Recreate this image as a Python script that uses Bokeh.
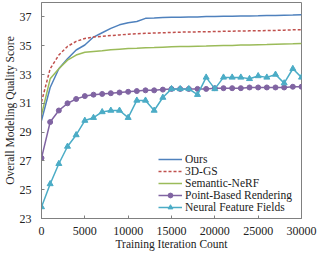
from bokeh.plotting import figure
from bokeh.models import FixedTicker, Legend, LegendItem, ColumnDataSource
from bokeh.embed import file_html
from bokeh.resources import INLINE

iters = [i * 1000 for i in range(31)]

ours = [29.8, 32.1, 33.4, 34.1, 34.7, 35.05, 35.6, 35.9, 36.2, 36.45, 36.6,
        36.68, 36.9, 36.92, 36.95, 36.97, 36.98, 37.0, 37.0, 37.02, 37.03,
        37.05, 37.05, 37.07, 37.07, 37.08, 37.1, 37.1, 37.12, 37.13, 37.15]
gs3d = [31.1, 33.4, 34.35, 34.95, 35.3, 35.5, 35.6, 35.65, 35.7, 35.75, 35.8,
        35.83, 35.86, 35.88, 35.9, 35.92, 35.94, 35.95, 35.96, 35.97, 35.98,
        36.0, 36.01, 36.02, 36.03, 36.04, 36.05, 36.06, 36.08, 36.1, 36.1]
semnerf = [30.2, 32.7, 33.4, 34.0, 34.35, 34.55, 34.6, 34.65, 34.72, 34.76, 34.8,
           34.82, 34.85, 34.87, 34.9, 34.93, 34.94, 34.95, 34.97, 34.98, 35.0,
           35.01, 35.02, 35.04, 35.05, 35.07, 35.08, 35.1, 35.12, 35.13, 35.15]
pbr = [27.2, 29.7, 30.5, 31.0, 31.3, 31.5, 31.6, 31.65, 31.7, 31.75, 31.8,
       31.85, 31.9, 31.9, 31.95, 32.0, 32.0, 32.0, 32.0, 32.0, 32.05,
       32.05, 32.05, 32.05, 32.1, 32.1, 32.1, 32.1, 32.1, 32.15, 32.15]
nff = [23.8, 25.4, 26.8, 28.0, 28.8, 29.8, 30.0, 30.4, 30.5, 30.5, 30.0,
       31.2, 31.2, 30.5, 31.4, 32.0, 32.0, 32.0, 31.6, 32.8, 32.0,
       32.8, 32.8, 32.8, 32.7, 32.9, 32.8, 33.0, 32.4, 33.4, 32.8]

series_names = ["Ours", "3D-GS", "Semantic-NeRF", "Point-Based Rendering", "Neural Feature Fields"]
y_ticks = [23, 25, 27, 29, 31, 33, 35, 37]
x_ticks = [0, 5000, 10000, 15000, 20000, 25000, 30000]

FONT = "Liberation Serif"

p = figure(width=317, height=255, x_range=(0, 30000), y_range=(23, 38),
           output_backend="svg", toolbar_location=None,
           min_border_left=39, min_border_right=16, min_border_top=2, min_border_bottom=37)

p.xgrid.visible = False
p.ygrid.visible = False
p.outline_line_color = "#808080"
p.outline_line_width = 1
p.background_fill_color = "white"
p.border_fill_color = "white"

for ax in (p.xaxis, p.yaxis):
    ax.axis_line_color = "#808080"
    ax.major_tick_line_color = "#808080"
    ax.minor_tick_line_color = None
    ax.major_tick_in = 3
    ax.major_tick_out = 0
    ax.major_label_text_font = FONT
    ax.major_label_text_font_size = "12px"
    ax.major_label_text_color = "#222222"
    ax.axis_label_text_font = FONT
    ax.axis_label_text_font_size = "11.5px"
    ax.axis_label_text_font_style = "normal"
    ax.axis_label_text_color = "#222222"

p.xaxis.ticker = FixedTicker(ticks=x_ticks)
p.yaxis.ticker = FixedTicker(ticks=y_ticks)
p.xaxis.axis_label = "Training Iteration Count"
p.yaxis.axis_label = "Overall Modeling Quality Score"
p.xaxis.major_label_standoff = 8
p.xaxis.axis_label_standoff = 0
p.yaxis.major_label_standoff = 10
p.yaxis.axis_label_standoff = 1

src = ColumnDataSource(dict(x=iters, ours=ours, gs=gs3d, sn=semnerf, pbr=pbr, nff=nff))

r1 = p.line("x", "ours", source=src, line_color="#4F81BD", line_width=1.5)
r2 = p.line("x", "gs", source=src, line_color="#C0504D", line_width=1.5, line_dash="3 2")
r3 = p.line("x", "sn", source=src, line_color="#9BBB59", line_width=1.5)
r4 = p.line("x", "pbr", source=src, line_color="#8064A2", line_width=1.5)
r4m = p.scatter("x", "pbr", source=src, marker="circle", size=5, fill_color="#8064A2", line_color="#8064A2")
r5 = p.line("x", "nff", source=src, line_color="#4BACC6", line_width=1.5)
r5m = p.scatter("x", "nff", source=src, marker="triangle", size=6, fill_color="#4BACC6", line_color="#4BACC6")

legend = Legend(items=[
    LegendItem(label=series_names[0], renderers=[r1]),
    LegendItem(label=series_names[1], renderers=[r2]),
    LegendItem(label=series_names[2], renderers=[r3]),
    LegendItem(label=series_names[3], renderers=[r4, r4m]),
    LegendItem(label=series_names[4], renderers=[r5, r5m]),
], location=(117, 5))
legend.background_fill_alpha = 0
legend.border_line_color = None
legend.padding = 0
legend.margin = 0
legend.spacing = 0
legend.glyph_width = 24
legend.glyph_height = 12
legend.label_height = 12
legend.label_standoff = 3
legend.label_text_font = FONT
legend.label_text_font_size = "11.5px"
legend.label_text_color = "#222222"
p.add_layout(legend, "center")

open("out.html", "w").write(file_html(p, INLINE))
